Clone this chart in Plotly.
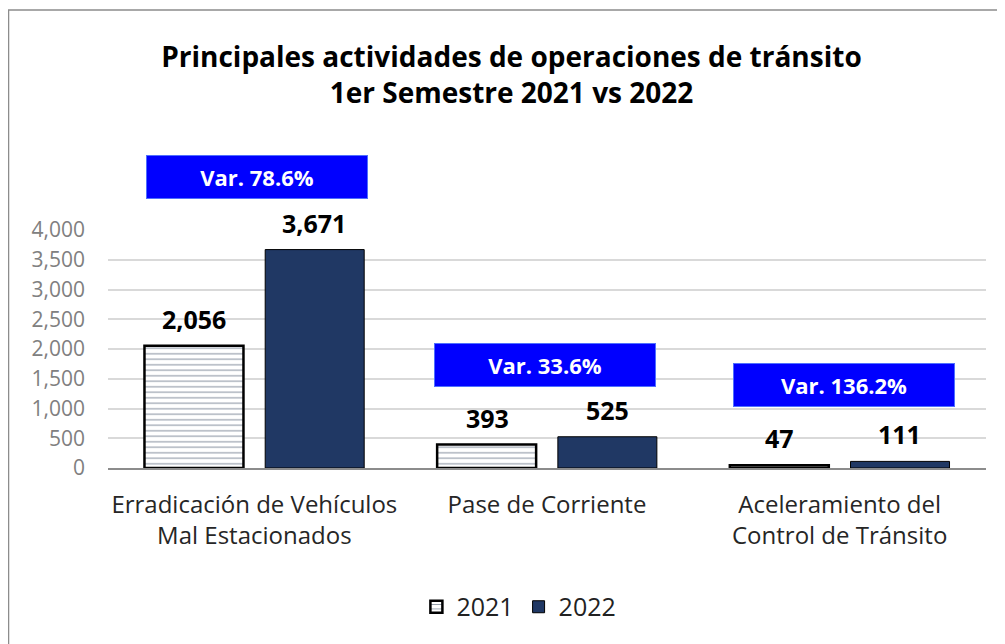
import plotly.graph_objects as go

categories = ["Erradicación de Vehículos<br>Mal Estacionados", "Pase de Corriente",
              "Aceleramiento del<br>Control de Tránsito"]
values_2021 = [2056, 393, 47]
values_2022 = [3671, 525, 111]
variations = ["Var. 78.6%", "Var. 33.6%", "Var. 136.2%"]
var_box_y = [4890, 1730, 1395]
var_box_xshift = [3, -2, 4]
tick_vals = [0, 500, 1000, 1500, 2000, 2500, 3000, 3500, 4000]

FONT = "Open Sans, Liberation Sans, sans-serif"

fig = go.Figure()
fig.add_trace(go.Bar(
    name="2021", x=categories, y=values_2021,
    marker=dict(color="white", line=dict(color="black", width=2.5),
                pattern=dict(shape="-", fgcolor="#44546a", bgcolor="white", size=5.5,
                             solidity=0.2, fgopacity=0.6)),
))
fig.add_trace(go.Bar(
    name="2022", x=categories, y=values_2022,
    marker=dict(color="#203864", line=dict(color="black", width=1)),
))

annotations = []
for i, c in enumerate(categories):
    for v, xs in ((values_2021[i], -60), (values_2022[i], 60)):
        annotations.append(dict(x=c, y=v, xref="x", yref="y", text=f"<b>{v:,}</b>",
                                showarrow=False, xshift=xs, yshift=27,
                                font=dict(family=FONT, size=25, color="black")))
    annotations.append(dict(x=c, y=var_box_y[i] / 4000, xref="x", yref="paper",
                            xanchor="center", yanchor="middle",
                            text=f"<b>{variations[i]}</b>",
                            showarrow=False, xshift=var_box_xshift[i], width=218, height=40,
                            bgcolor="#0000ff", bordercolor="#4f6fff", borderwidth=1,
                            font=dict(family=FONT, size=22, color="white")))

fig.update_layout(
    width=997, height=636,
    paper_bgcolor="white", plot_bgcolor="white",
    margin=dict(l=100, r=19, t=222, b=176),
    barmode="group", bargap=0.175, bargroupgap=0.18,
    title=dict(text="<b>Principales actividades de operaciones de tránsito<br>1er Semestre 2021 vs 2022</b>",
               x=0.505, xanchor="center", y=0.9072, yanchor="middle",
               font=dict(family=FONT, size=28, color="black")),
    font=dict(family=FONT),
    legend=dict(orientation="h", x=0.468, xanchor="center", y=-0.584, yanchor="middle",
                font=dict(family=FONT, size=25, color="#222222")),
    annotations=annotations,
    shapes=[dict(type="rect", xref="paper", yref="paper", x0=-0.1133, x1=1.3, y0=-1.2, y1=1.924,
                 line=dict(color="#8c8c8c", width=1.5), fillcolor="rgba(0,0,0,0)", layer="below")],
)
fig.update_yaxes(range=[0, 4000], tickvals=tick_vals, tickformat=",", showgrid=True,
                 gridcolor="#d9d9d9", gridwidth=1.5, zeroline=False, showline=False,
                 tickfont=dict(family=FONT, size=21, color="#808080"), ticks="", ticklabelstandoff=22)
fig.update_xaxes(showline=True, linecolor="#8c8c8c", linewidth=1.5, ticks="",
                 tickfont=dict(family=FONT, size=24, color="#262626"), ticklabelstandoff=14)

fig.write_html("out.html")
